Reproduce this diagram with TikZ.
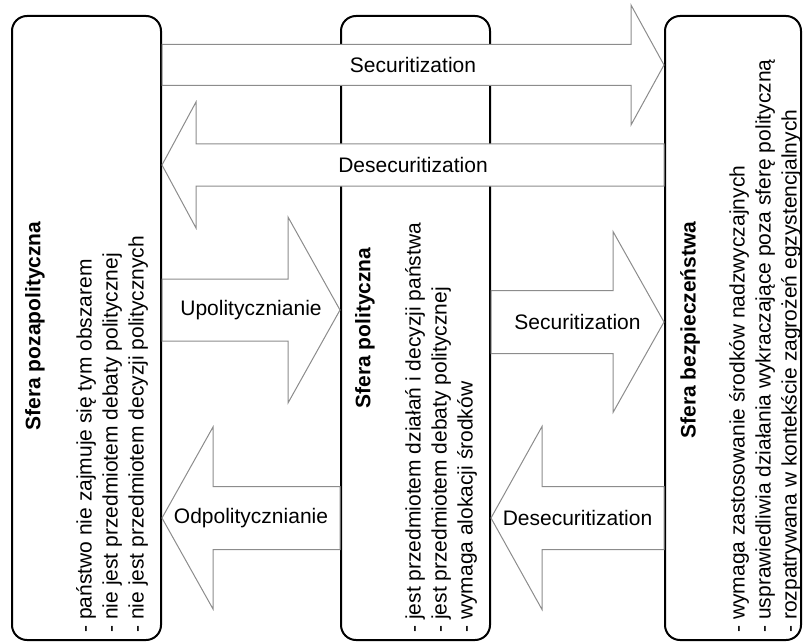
\documentclass[tikz,border=0pt]{standalone}
\usepackage{fontspec}
\setmainfont{Liberation Sans}
\usetikzlibrary{positioning,calc}

% block arrow: tail, tip, body half, head half, head length, name, label
\newcommand{\blokstrzalka}[7]{%
	\coordinate (hb) at ($(#2)!#5!(#1)$);
	\draw[blok] ($(#1)!#3!90:(#2)$) -- ($(hb)!#3!90:(#2)$) -- ($(hb)!#4!90:(#2)$) -- (#2)
	-- ($(hb)!#4!-90:(#2)$) -- ($(hb)!#3!-90:(#2)$) -- ($(#1)!#3!-90:(#2)$) -- cycle;
	\node[etykieta] (#6) at ($(#1)!0.5!(#2)$) {#7};
}

\begin{document}
\begin{tikzpicture}[
		x=0.5pt,y=-0.5pt,
		line cap=round,line join=round,
		font=\fontsize{10.5}{13}\selectfont
		]
		% ---- colors
		\definecolor{arrGray}{RGB}{140,140,140}
		
		% ---- styles
		\tikzset{
			sfera/.style={draw=black, line width=1pt, rounded corners=7.5pt, fill=white, minimum height=312pt, inner sep=0pt},
			tytul/.style={font=\fontsize{10.5}{13}\selectfont\bfseries, rotate=90, inner sep=0pt},
			opis/.style={rotate=90, anchor=west, align=left, inner sep=0pt},
			blok/.style={draw=arrGray, line width=0.5pt, fill=white, line join=miter},
			etykieta/.style={inner sep=0pt}
		}
		
		\useasboundingbox (0,0) rectangle (803,642);
		
		% ---- three spheres
		\node[sfera, minimum width=74.5pt] (poza) at (86.5,328) {};
		\node[sfera, minimum width=74.5pt] (pol)  at (415.5,328) {};
		\node[sfera, minimum width=68pt]   (bezp) at (733,328) {};
		
		% ---- arrow ends
		\coordinate (s1a) at (poza.east |- 0,65);
		\coordinate (s1b) at (bezp.west |- 0,65);
		\coordinate (d1a) at (bezp.west |- 0,165);
		\coordinate (d1b) at (poza.east |- 0,165);
		\coordinate (upa) at (poza.east |- 0,310);
		\coordinate (upb) at (pol.west |- 0,310);
		\coordinate (oda) at (pol.west |- 0,518);
		\coordinate (odb) at (poza.east |- 0,518);
		\coordinate (s2a) at (pol.east |- 0,322);
		\coordinate (s2b) at (bezp.west |- 0,322);
		\coordinate (d2a) at (bezp.west |- 0,518);
		\coordinate (d2b) at (pol.east |- 0,518);
		
		% ---- long arrows (across the middle sphere)
		\blokstrzalka{s1a}{s1b}{10.25pt}{30pt}{16.5pt}{sec1}{Securitization}
		\blokstrzalka{d1a}{d1b}{10.5pt}{31.5pt}{17pt}{des1}{Desecuritization}
		
		% ---- short arrows
		\blokstrzalka{upa}{upb}{15.5pt}{46.5pt}{26pt}{upol}{Upolitycznianie}
		\blokstrzalka{oda}{odb}{15.75pt}{45.5pt}{25.5pt}{odpol}{Odpolitycznianie}
		\blokstrzalka{s2a}{s2b}{15.75pt}{45.25pt}{25.5pt}{sec2}{Securitization}
		\blokstrzalka{d2a}{d2b}{15.75pt}{45.75pt}{25.5pt}{des2}{Desecuritization}
		
		% ---- titles
		\node[tytul] (tpoza) at (35,326) {Sfera pozapolityczna};
		\node[tytul] (tpol)  at (365,328) {Sfera polityczna};
		\node[tytul] (tbezp) at (690,330) {Sfera bezpieczeństwa};
		
		% ---- descriptions
		\node[opis] (opoza) at (112,633) {- państwo nie zajmuje się tym obszarem\\- nie jest przedmiotem debaty politycznej\\- nie jest przedmiotem decyzji politycznych};
		\node[opis] (opol) at (441,633) {- jest przedmiotem działań i decyzji państwa\\- jest przedmiotem debaty politycznej\\- wymaga alokacji środków};
		\node[opis] (obezp) at (765,633) {- wymaga zastosowanie środków nadzwyczajnych\\- usprawiedliwia działania wykraczające poza sferę polityczną\\- rozpatrywana w kontekście zagrożeń egzystencjalnych};
		
	\end{tikzpicture}
\end{document}
